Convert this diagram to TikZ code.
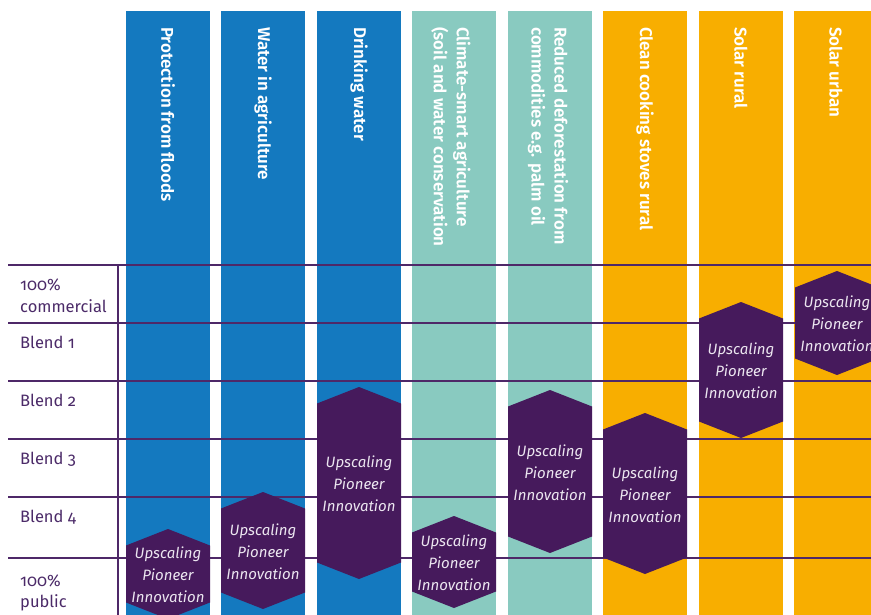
\documentclass[tikz,border=0pt]{standalone}
\usepackage{fontspec}
\setmainfont{Fira Sans}[Numbers=OldStyle]
\newfontfamily\hdrfont{Fira Sans SemiBold}
\usepackage{xcolor}
\definecolor{cblue}{HTML}{1479BF}
\definecolor{cteal}{HTML}{89CAC0}
\definecolor{corange}{HTML}{F8AE00}
\definecolor{cpurple}{HTML}{461A5C}
\definecolor{cline}{HTML}{4E2868}
\definecolor{clabel}{HTML}{4B2A68}
\definecolor{chextext}{HTML}{ECE6F0}
\newcommand\hexag[4]{%
  \fill[cpurple] (#1-42,#2+16.5) -- (#1,#2) -- (#1+42,#2+16.5) -- (#1+42,#3-16.5) -- (#1,#3) -- (#1-42,#3-16.5) -- cycle;
  \node[hextext] (#4) at (#1,{(#2+#3)/2+1}) {Upscaling\\Pioneer\\Innovation};
}
\begin{document}
\begin{tikzpicture}[x=1pt,y=-1pt,
  hdr/.style={rotate=-90,anchor=west,inner sep=0pt,text=white,align=left,
    font=\hdrfont\fontsize{17}{23}\selectfont},
  lbl/.style={anchor=base west,inner sep=0pt,text=clabel,align=left,
    font=\fontsize{16.5}{21}\selectfont},
  hextext/.style={inner sep=0pt,text=chextext,align=center,
    font=\itshape\fontsize{15}{22}\selectfont},
  grid/.style={cline,line width=1.3pt}]
\useasboundingbox (0,0) rectangle (871,615);
% columns
\fill[cblue]   (126,11) rectangle (210,615);
\fill[cblue]   (221,11) rectangle (305,615);
\fill[cblue]   (317,11) rectangle (401,615);
\fill[cteal]   (412,11) rectangle (496,615);
\fill[cteal]   (508,11) rectangle (592,615);
\fill[corange] (603,11) rectangle (687,615);
\fill[corange] (699,11) rectangle (783,615);
\fill[corange] (794,11) rectangle (878,615);
% headers
\node[hdr] (h1) at (168,27) {Protection from floods};
\node[hdr] (h2) at (263,27) {Water in agriculture};
\node[hdr] (h3) at (359,27) {Drinking water};
\node[hdr] (h4) at (451,27) {Climate-smart agriculture\\(soil and water conservation};
\node[hdr] (h5) at (548,27) {Reduced deforestation from\\commodities e.g. palm oil};
\node[hdr] (h6) at (645,27) {Clean cooking stoves rural};
\node[hdr] (h7) at (741,27) {Solar rural};
\node[hdr] (h8) at (836,27) {Solar urban};
% grid
\coordinate (g0l) at (8,265);   \coordinate (g0r) at (871,265);
\coordinate (g1l) at (8,323);   \coordinate (g1r) at (871,323);
\coordinate (g2l) at (8,381);   \coordinate (g2r) at (871,381);
\coordinate (g3l) at (8,439);   \coordinate (g3r) at (871,439);
\coordinate (g4l) at (8,497);   \coordinate (g4r) at (871,497);
\coordinate (g5l) at (8,558);   \coordinate (g5r) at (871,558);
\coordinate (vt) at (118,265);  \coordinate (vb) at (118,615);
\draw[grid] (g0l) -- (g0r);
\draw[grid] (g1l) -- (g1r);
\draw[grid] (g2l) -- (g2r);
\draw[grid] (g3l) -- (g3r);
\draw[grid] (g4l) -- (g4r);
\draw[grid] (g5l) -- (g5r);
\draw[grid] (vt) -- (vb);
% row labels
\node[lbl] (r0) at (20,312) {100\%\\commercial};
\node[lbl] (r1) at (20,348) {Blend 1};
\node[lbl] (r2) at (20,406) {Blend 2};
\node[lbl] (r3) at (20,464) {Blend 3};
\node[lbl] (r4) at (20,522) {Blend 4};
\node[lbl] (r5) at (20,607) {100\%\\public};
% hexagons
\hexag{168}{529}{619}{x1}
\hexag{263}{492}{609}{x2}
\hexag{359}{387}{579}{x3}
\hexag{454}{516}{608}{x4}
\hexag{550}{390}{553}{x5}
\hexag{645}{413}{574}{x6}
\hexag{741}{302}{438}{x7}
\hexag{837}{271}{375}{x8}
\end{tikzpicture}
\end{document}
